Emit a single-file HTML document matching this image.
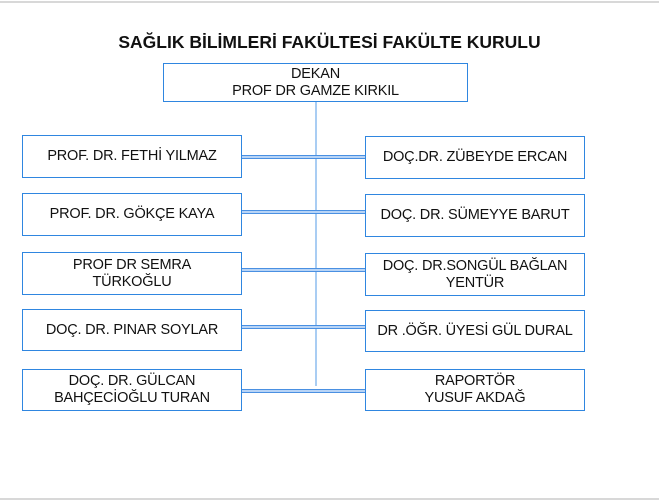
<!DOCTYPE html>
<html><head><meta charset="utf-8"><style>
body{margin:0;width:659px;height:501px;background:#fff;position:relative;overflow:hidden;font-family:"Liberation Sans",Arial,sans-serif}
.b{position:absolute;border:1.5px solid #2f86e0;box-sizing:border-box;display:flex;align-items:center;justify-content:center;text-align:center;font-size:14.5px;color:#111;line-height:17px;background:#fff;letter-spacing:-0.2px}
.h{position:absolute;height:4px;border-top:1.5px solid #4a90e2;border-bottom:1.5px solid #4a90e2;background:#b8d4f6;box-sizing:border-box}
</style></head><body>
<div style="position:absolute;left:0;top:1px;width:659px;height:2px;background:#d8d8d8"></div>
<div style="position:absolute;left:0;top:498px;width:659px;height:2px;background:#d8d8d8"></div>
<div style="position:absolute;left:0;top:32px;width:659px;text-align:center;font-weight:bold;font-size:17.5px;color:#111">SAĞLIK BİLİMLERİ FAKÜLTESİ FAKÜLTE KURULU</div>
<div style="position:absolute;left:315px;top:101px;width:2px;height:285px;background:#a9cdf3"></div>
<div class="h" style="left:242px;top:155px;width:123px"></div>
<div class="h" style="left:242px;top:210px;width:123px"></div>
<div class="h" style="left:242px;top:268px;width:123px"></div>
<div class="h" style="left:242px;top:325px;width:123px"></div>
<div class="h" style="left:240px;top:389px;width:125px"></div>
<div class="b" style="left:163px;top:63px;width:305px;height:39px;border-color:#2f86e0">DEKAN<br>PROF DR GAMZE KIRKIL</div>
<div class="b" style="left:22px;top:135px;width:220px;height:43px">PROF. DR. FETHİ YILMAZ</div>
<div class="b" style="left:22px;top:193px;width:220px;height:43px">PROF. DR. GÖKÇE KAYA</div>
<div class="b" style="left:22px;top:252px;width:220px;height:43px">PROF DR SEMRA<br>TÜRKOĞLU</div>
<div class="b" style="left:22px;top:309px;width:220px;height:42px">DOÇ. DR. PINAR SOYLAR</div>
<div class="b" style="left:22px;top:369px;width:220px;height:42px">DOÇ. DR. GÜLCAN<br>BAHÇECİOĞLU TURAN</div>
<div class="b" style="left:365px;top:136px;width:220px;height:43px">DOÇ.DR. ZÜBEYDE ERCAN</div>
<div class="b" style="left:365px;top:194px;width:220px;height:43px">DOÇ. DR. SÜMEYYE BARUT</div>
<div class="b" style="left:365px;top:253px;width:220px;height:43px">DOÇ. DR.SONGÜL BAĞLAN<br>YENTÜR</div>
<div class="b" style="left:365px;top:310px;width:220px;height:42px">DR .ÖĞR. ÜYESİ GÜL DURAL</div>
<div class="b" style="left:365px;top:369px;width:220px;height:42px">RAPORTÖR<br>YUSUF AKDAĞ</div>
</body></html>
